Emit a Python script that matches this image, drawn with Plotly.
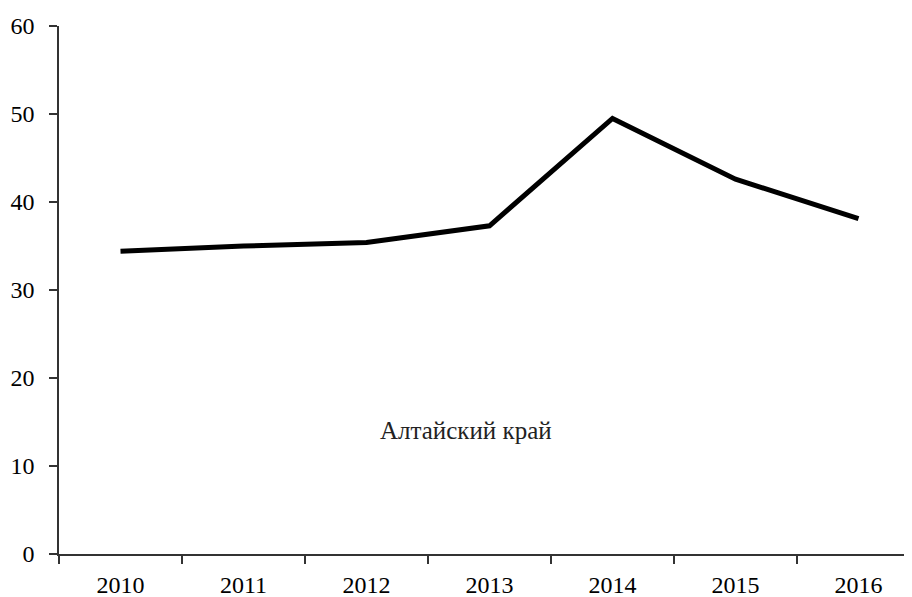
import plotly.graph_objects as go

years = ["2010", "2011", "2012", "2013", "2014", "2015", "2016"]
values = [34.4, 35.0, 35.4, 37.3, 49.5, 42.6, 38.1]
y_ticks = [0, 10, 20, 30, 40, 50, 60]
label = "Алтайский край"

fig = go.Figure()
fig.add_trace(go.Scatter(
    x=years, y=values, mode="lines",
    line=dict(color="black", width=5),
    showlegend=False,
))

font_serif = "Liberation Serif, Times New Roman, serif"

fig.update_layout(
    width=912, height=597,
    margin=dict(l=51, r=0, t=18, b=51),
    plot_bgcolor="white", paper_bgcolor="white",
    font=dict(family=font_serif, size=24, color="black"),
    xaxis=dict(
        type="category",
        range=[-0.5, 6.5],
        showline=True, linecolor="#333", linewidth=1.5,
        ticks="outside", ticklen=8, tickcolor="#333", tickwidth=1.5,
        tickson="boundaries",
        showgrid=False, zeroline=False,
        ticklabelstandoff=8,
        automargin=False,
        tickfont=dict(family=font_serif, size=24, color="black"),
    ),
    yaxis=dict(
        range=[0, 60],
        tickvals=y_ticks,
        showline=True, linecolor="#333", linewidth=1.5,
        ticks="outside", ticklen=8, tickcolor="#333", tickwidth=1.5,
        showgrid=False, zeroline=False,
        ticklabelstandoff=10,
        automargin=False,
        tickfont=dict(family=font_serif, size=24, color="black"),
    ),
    annotations=[dict(
        x=2.81, y=14.0, xref="x", yref="y",
        text=label, showarrow=False,
        font=dict(family=font_serif, size=25, color="#222"),
    )],
)

fig.write_html("out.html")
